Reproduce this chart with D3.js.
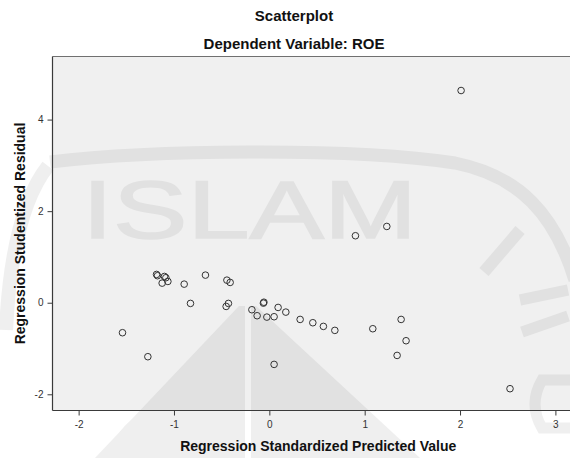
<!DOCTYPE html>
<html>
<head>
<meta charset="utf-8">
<script src="https://cdn.jsdelivr.net/npm/d3@7"></script>
<style>
  html, body { margin: 0; padding: 0; background: #fff; }
  svg { display: block; font-family: "Liberation Sans", Arial, sans-serif; }
</style>
</head>
<body>
<svg id="chart" width="570" height="458"></svg>
<script>
// ---- data ----
const predicted = [
  -1.183, -1.173, -1.100, -1.085, -1.124, -1.064, -0.893, -0.670, -0.445, -0.411,
  -0.827, -0.429, -0.453, -1.540, -1.274, -0.062, -0.057, -0.183, -0.128, -0.026,
   0.050,  0.092,  0.173,  0.323,  0.456,  0.567,  0.687,  0.050,  1.232,  0.903,
   1.382,  1.085,  1.434,  1.340,  2.524,  2.011
];
const residual = [
   0.618,  0.590,  0.574,  0.546,  0.428,  0.465,  0.406,  0.603,  0.493,  0.443,
  -0.015, -0.015, -0.081, -0.655, -1.179, -0.009,  0.011, -0.153, -0.284, -0.314,
  -0.306, -0.103, -0.205, -0.365, -0.437, -0.517, -0.604, -1.347,  1.666,  1.463,
  -0.365, -0.568, -0.830, -1.151, -1.878,  4.635
];
const xTicks = [-2, -1, 0, 1, 2, 3];
const yTicks = [-2, 0, 2, 4];
const xDomain = [-2.274, 3.30];
const yDomain = [-2.354, 5.378];
const titleText = "Scatterplot";
const subtitleText = "Dependent Variable: ROE";
const xTitle = "Regression Standardized Predicted Value";
const yTitle = "Regression Studentized Residual";

const points = predicted.map((x, i) => ({ x, y: residual[i] }));

// ---- layout ----
const W = 570, H = 458;
const plot = { left: 52.5, top: 56.5, right: 584, bottom: 410.5 };

const svg = d3.select("#chart");
svg.append("rect").attr("width", W).attr("height", H).attr("fill", "#ffffff");

const x = d3.scaleLinear().domain(xDomain).range([plot.left, plot.right]);
const y = d3.scaleLinear().domain(yDomain).range([plot.bottom, plot.top]);

// plot background
svg.append("rect")
  .attr("x", plot.left).attr("y", plot.top)
  .attr("width", plot.right - plot.left).attr("height", plot.bottom - plot.top)
  .attr("fill", "#f0f0f0");

// faint watermark (decorative)
const wm = svg.append("g").attr("fill", "#000").attr("stroke", "#000").attr("opacity", 0.06);
wm.append("text")
  .attr("x", 82).attr("y", 238)
  .attr("font-size", 81)
  .attr("textLength", 335).attr("lengthAdjust", "spacingAndGlyphs")
  .attr("stroke-width", 1.5)
  .text("ISLAM");
wm.append("path").attr("fill", "none").attr("stroke-width", 13)
  .attr("d", "M 50,162 C 150,150 350,147 455,163 C 520,176 555,215 575,280");
wm.append("path").attr("fill", "none").attr("stroke-width", 14)
  .attr("d", "M 48,166 C 25,195 10,245 6,330");
wm.append("path").attr("fill", "none").attr("stroke-width", 12)
  .attr("d", "M 520,230 L 484,272");
wm.append("path").attr("fill", "none").attr("stroke-width", 11)
  .attr("d", "M 572,380 L 542,380 Q 528,404 542,428 L 572,428");
wm.append("path").attr("fill", "none").attr("stroke-width", 11)
  .attr("d", "M 520,300 L 568,290 M 522,332 L 568,316");
wm.append("polygon").attr("stroke", "none")
  .attr("points", "239,306 245,306 245,458 95,458");
wm.append("polygon").attr("stroke", "none")
  .attr("points", "251,306 256,306 420,458 251,458");
wm.append("path").attr("fill", "none").attr("stroke-width", 16)
  .attr("d", "M 120,458 C 120,430 150,412 180,412 C 210,412 232,430 234,458");

// axes
const axG = svg.append("g").attr("font-family", "'Liberation Sans', Arial, sans-serif");
const xAxis = axG.append("g")
  .attr("transform", `translate(0,${plot.bottom})`)
  .call(d3.axisBottom(x).tickValues(xTicks).tickSize(5).tickPadding(5).tickFormat(d3.format("d")));
const yAxis = axG.append("g")
  .attr("transform", `translate(${plot.left},0)`)
  .call(d3.axisLeft(y).tickValues(yTicks).tickSize(5).tickPadding(4).tickFormat(d3.format("d")));
[xAxis, yAxis].forEach(g => {
  g.select(".domain").remove();
  g.selectAll(".tick line").attr("stroke", "#3a3a3a");
  g.selectAll(".tick text").attr("fill", "#333").attr("font-size", 10).attr("font-family", "'Liberation Sans', Arial, sans-serif");
});
xAxis.selectAll(".tick text").text(d => d < 0 ? "-" + Math.abs(d) : d);
yAxis.selectAll(".tick text").text(d => d < 0 ? "-" + Math.abs(d) : d);

// plot frame
svg.append("line").attr("x1", plot.left).attr("x2", W).attr("y1", plot.top).attr("y2", plot.top)
  .attr("stroke", "#707070").attr("stroke-width", 1.2);
svg.append("line").attr("x1", plot.left).attr("x2", plot.left).attr("y1", plot.top).attr("y2", plot.bottom)
  .attr("stroke", "#3a3a3a").attr("stroke-width", 1.2);
svg.append("line").attr("x1", plot.left).attr("x2", W).attr("y1", plot.bottom).attr("y2", plot.bottom)
  .attr("stroke", "#3a3a3a").attr("stroke-width", 1.2);

// points
svg.append("g").selectAll("circle")
  .data(points)
  .join("circle")
  .attr("cx", d => x(d.x))
  .attr("cy", d => y(d.y))
  .attr("r", 3.3)
  .attr("fill", "none")
  .attr("stroke", "#333")
  .attr("stroke-width", 1);

// titles
svg.append("text").attr("x", 294).attr("y", 20.5).attr("text-anchor", "middle")
  .attr("font-size", 15).attr("font-weight", "bold").attr("fill", "#111").text(titleText);
svg.append("text").attr("x", 294).attr("y", 48.5).attr("text-anchor", "middle")
  .attr("font-size", 15).attr("font-weight", "bold").attr("fill", "#111").text(subtitleText);
svg.append("text").attr("x", (plot.left + plot.right) / 2).attr("y", 451).attr("text-anchor", "middle")
  .attr("font-size", 14).attr("font-weight", "bold").attr("fill", "#111").text(xTitle);
svg.append("text")
  .attr("transform", `translate(24.5,${(plot.top + plot.bottom) / 2}) rotate(-90)`)
  .attr("text-anchor", "middle")
  .attr("font-size", 14).attr("font-weight", "bold").attr("fill", "#111").text(yTitle);
</script>
</body>
</html>
